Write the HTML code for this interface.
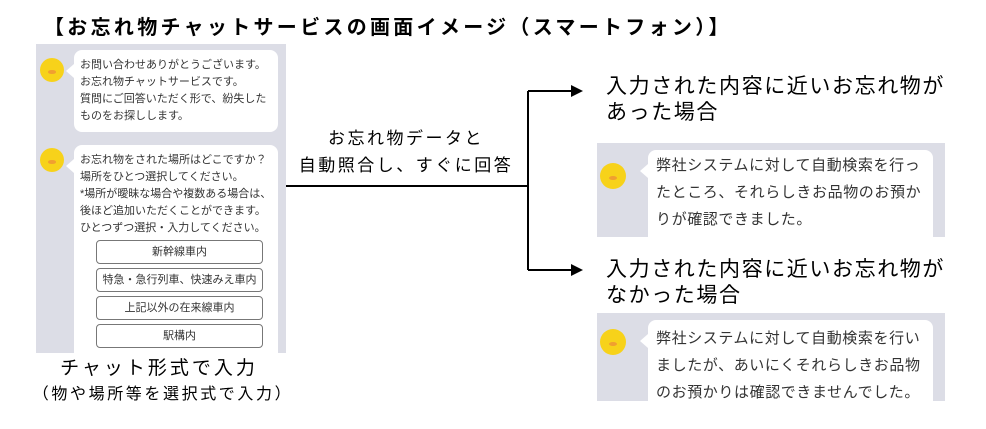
<!DOCTYPE html>
<html><head><meta charset="utf-8"><style>
body{margin:0;width:986px;height:429px;background:#fff;position:relative;overflow:hidden;font-family:"Liberation Sans","Noto Sans CJK JP",sans-serif;color:#000}
.a{position:absolute;white-space:nowrap}
.panel{position:absolute;background:#dcdde6;overflow:hidden}
.bub{position:absolute;background:#fff;border-radius:8px;color:#333;white-space:nowrap}
.bub:before{content:"";position:absolute;left:-8px;top:14px;border-style:solid;border-width:7px 8px 7px 0;border-color:transparent #fff transparent transparent}
.chick{position:absolute;border-radius:50%;background:#f7d21a}
.chick:after{content:"";position:absolute;left:35%;top:50%;width:30%;height:16%;background:#f0a030;border-radius:50%}
.btn{position:absolute;left:22px;width:165px;height:22px;border:1px solid #777;border-radius:4px;font-size:11px;text-align:center;line-height:22px;color:#333;background:#fff}
</style></head><body>
<div class="a" style="left:44px;top:11px;font-size:20px;font-weight:bold;letter-spacing:3.3px">【お忘れ物チャットサービスの画面イメージ（スマートフォン）】</div>

<div class="panel" style="left:36px;top:44px;width:250px;height:309px">
 <div class="chick" style="left:4px;top:14px;width:24px;height:24px"></div>
 <div class="bub" style="left:38px;top:6px;width:204px;height:82px;font-size:11px;line-height:17px;padding:7px 0 0 6px;box-sizing:border-box">お問い合わせありがとうございます。<br>お忘れ物チャットサービスです。<br>質問にご回答いただく形で、紛失した<br>ものをお探しします。</div>
 <div class="chick" style="left:4px;top:104px;width:24px;height:24px"></div>
 <div class="bub" style="left:38px;top:101px;width:204px;height:220px;font-size:11px;line-height:17px;padding:7px 0 0 6px;box-sizing:border-box">お忘れ物をされた場所はどこですか？<br>場所をひとつ選択してください。<br>*場所が曖昧な場合や複数ある場合は、<br>後ほど追加いただくことができます。<br>ひとつずつ選択・入力してください。
  <div class="btn" style="top:95px">新幹線車内</div>
  <div class="btn" style="top:123px">特急・急行列車、快速みえ車内</div>
  <div class="btn" style="top:151px">上記以外の在来線車内</div>
  <div class="btn" style="top:179px">駅構内</div>
 </div>
</div>
<div class="a" style="left:26px;top:353px;width:266px;text-align:center;font-size:19px;letter-spacing:3px">チャット形式で入力</div>
<div class="a" style="left:16px;top:380px;width:294px;text-align:center;font-size:16px;letter-spacing:2.6px">（物や場所等を選択式で入力）</div>

<div class="a" style="left:276px;top:125px;width:260px;text-align:center;font-size:17px;line-height:27px;letter-spacing:2.5px">お忘れ物データと<br>自動照合し、すぐに回答</div>
<svg class="a" style="left:0;top:0" width="986" height="429">
 <path d="M286 186H528M528 91V270M528 91H572M528 270H572" stroke="#000" stroke-width="2" fill="none"/>
 <path d="M583 91L571 85V97Z M583 270L571 264V276Z" fill="#000"/>
</svg>

<div class="a" style="left:606px;top:74px;font-size:21px;line-height:26px;letter-spacing:1.6px">入力された内容に近いお忘れ物が<br>あった場合</div>
<div class="panel" style="left:597px;top:143px;width:348px;height:94px">
 <div class="chick" style="left:3px;top:20px;width:26px;height:26px"></div>
 <div class="bub" style="left:51px;top:7px;width:285px;height:100px;font-size:15px;line-height:27px;padding:2px 0 0 8px;box-sizing:border-box;letter-spacing:0.6px">弊社システムに対して自動検索を行っ<br>たところ、それらしきお品物のお預か<br>りが確認できました。</div>
</div>

<div class="a" style="left:606px;top:257px;font-size:21px;line-height:26px;letter-spacing:1.6px">入力された内容に近いお忘れ物が<br>なかった場合</div>
<div class="panel" style="left:597px;top:313px;width:348px;height:88px">
 <div class="chick" style="left:3px;top:16px;width:26px;height:26px"></div>
 <div class="bub" style="left:51px;top:7px;width:285px;height:100px;font-size:15px;line-height:27px;padding:5px 0 0 8px;box-sizing:border-box;letter-spacing:0.6px">弊社システムに対して自動検索を行い<br>ましたが、あいにくそれらしきお品物<br>のお預かりは確認できませんでした。</div>
</div>
</body></html>
